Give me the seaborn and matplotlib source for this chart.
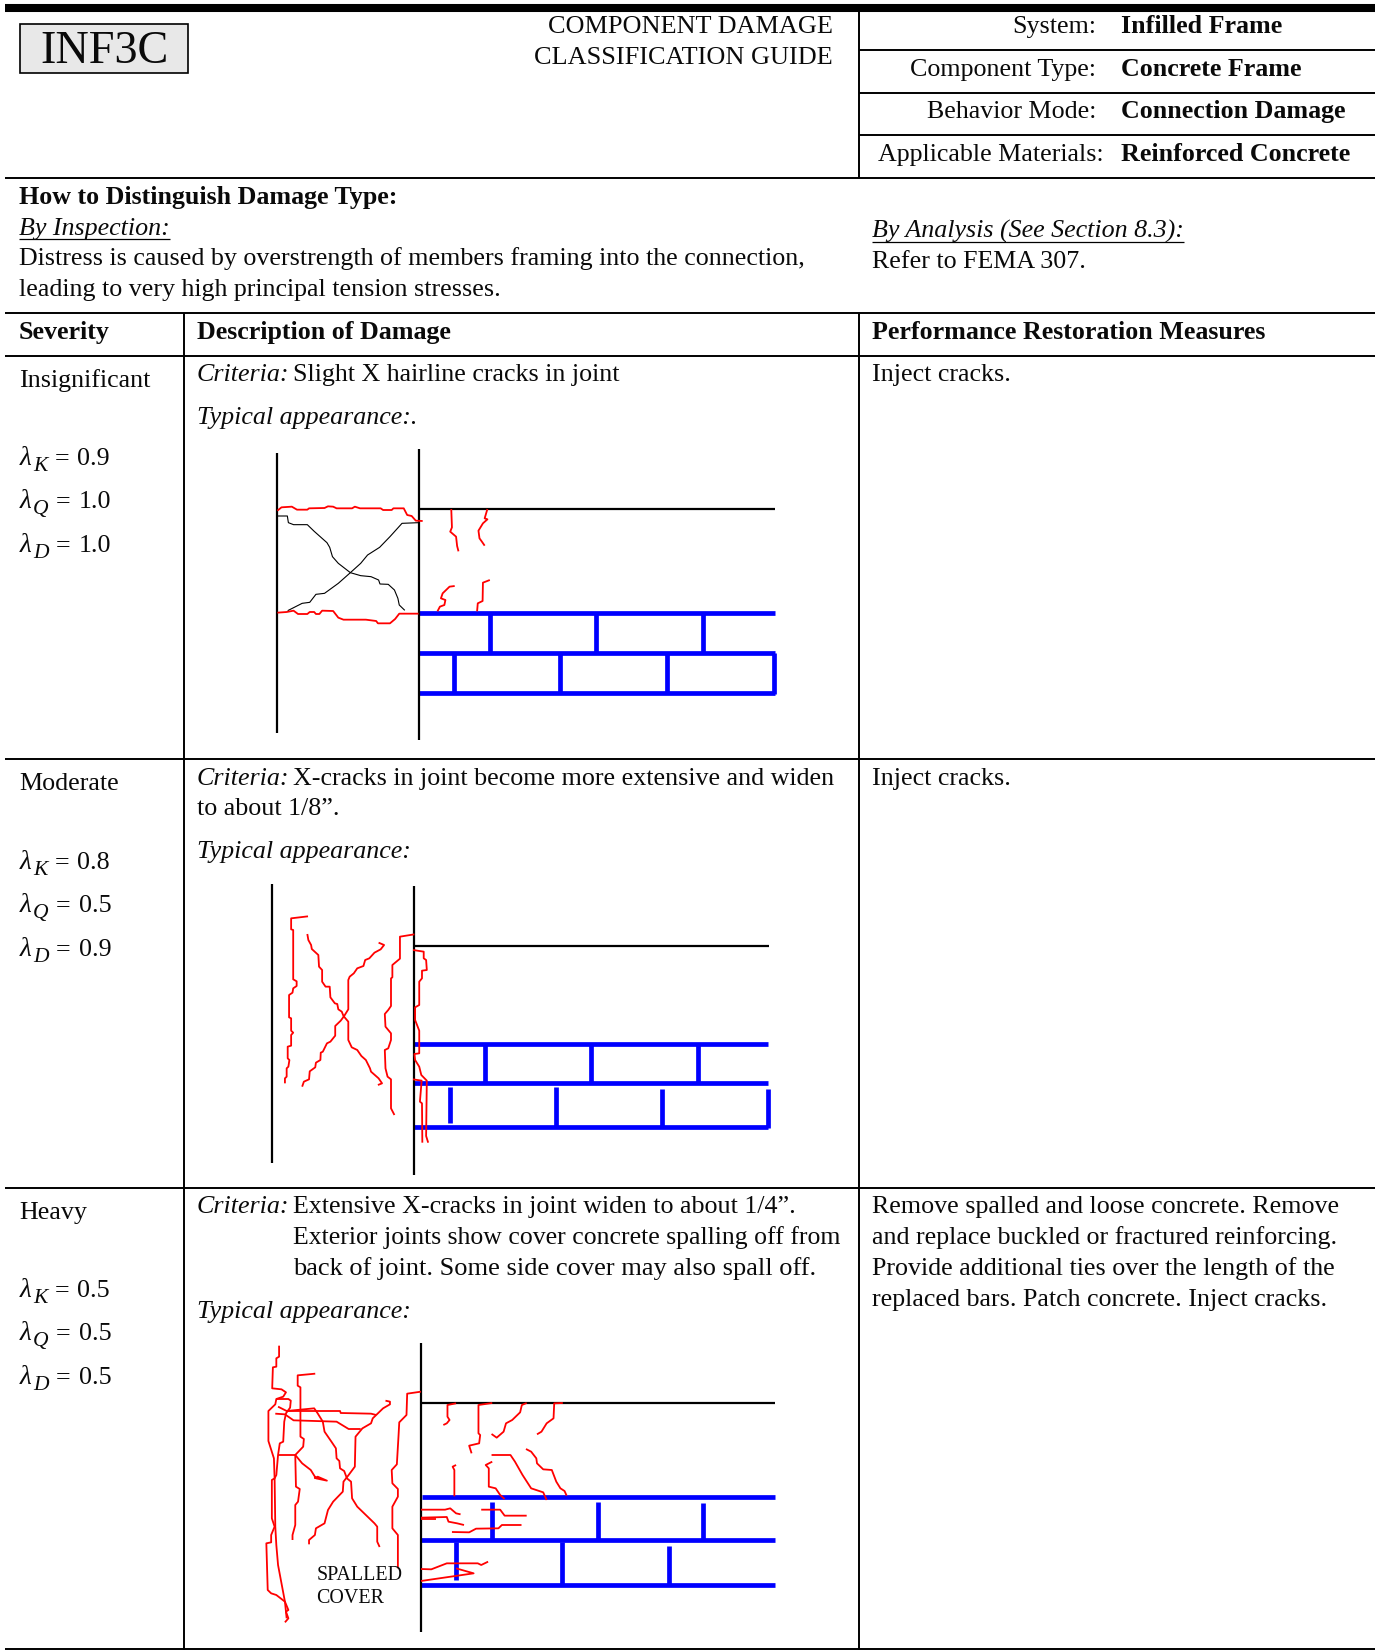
import pandas as pd
import seaborn as sns
import matplotlib.pyplot as plt
from matplotlib.patches import Rectangle

# Textos de la ficha
top_labels = ["System:", "Component Type:", "Behavior Mode:", "Applicable Materials:"]
top_values = ["Infilled Frame", "Concrete Frame", "Connection Damage", "Reinforced Concrete"]
severity = ["Insignificant", "Moderate", "Heavy"]
lambda_k = ["0.9", "0.8", "0.5"]
lambda_q = ["1.0", "0.5", "0.5"]
lambda_d = ["1.0", "0.9", "0.5"]
measures_heavy = ["Remove spalled and loose concrete. Remove",
                  "and replace buckled or fractured reinforcing.",
                  "Provide additional ties over the length of the",
                  "replaced bars. Patch concrete. Inject cracks."]

# Trazos (x, y del recorte ampliado de cada dibujo)
p1_black = [[(76, 40), (76, 880)], [(488, 28), (488, 900)], [(488, 207), (1522, 207)]]
p1_blue = [[(488, 520), (1522, 520)], [(488, 638), (1522, 638)], [(488, 758), (1522, 758)],
           [(695, 520), (695, 638)], [(1003, 520), (1003, 638)], [(1313, 520), (1313, 638)],
           [(591, 638), (591, 758)], [(900, 638), (900, 758)], [(1210, 638), (1210, 758)],
           [(1519, 638), (1519, 762)]]
p1_thin = [[(76, 228), (107, 228), (110, 248), (125, 254), (165, 254), (185, 274), (222, 308), (230, 322),
            (238, 350), (255, 370), (290, 398), (320, 407), (350, 410), (372, 420), (376, 432), (400, 433),
            (418, 450), (428, 475), (432, 495), (448, 511)],
           [(108, 512), (150, 490), (172, 487), (190, 463), (215, 460), (255, 430), (290, 398), (320, 370),
            (340, 345), (375, 322), (405, 290), (440, 250), (488, 248)]]
p1_red = [[(78, 212), (90, 202), (120, 200), (135, 209), (165, 209), (170, 205), (215, 204), (225, 199),
           (240, 200), (250, 205), (295, 205), (303, 200), (318, 205), (378, 205), (385, 210), (410, 210),
           (415, 205), (445, 205), (455, 225), (468, 228), (480, 242), (500, 243)],
          [(78, 518), (105, 516), (125, 512), (138, 522), (165, 522), (172, 516), (185, 516), (190, 522),
           (200, 522), (208, 512), (240, 513), (255, 533), (270, 539), (335, 539), (365, 543), (370, 550),
           (405, 550), (420, 537), (432, 521), (488, 521)],
          [(583, 207), (585, 262), (580, 275), (597, 290), (600, 318), (604, 334)],
          [(688, 207), (680, 235), (688, 238), (675, 250), (662, 272), (665, 295), (672, 305), (680, 317)],
          [(593, 438), (578, 440), (558, 460), (553, 475), (566, 480), (563, 495), (550, 500), (543, 514)],
          [(695, 420), (675, 428), (674, 483), (660, 490), (658, 514)]]

p2_black = [[(63, 42), (63, 880)], [(474, 48), (474, 915)], [(474, 227), (1507, 227)]]
p2_blue = [[(476, 523), (1504, 523)], [(476, 639), (1504, 639)], [(472, 771), (1504, 771)],
           [(681, 523), (681, 639)], [(989, 523), (989, 639)], [(1299, 523), (1299, 639)],
           [(578, 650), (578, 760)], [(886, 650), (886, 771)], [(1196, 656), (1196, 771)],
           [(1504, 656), (1504, 775)]]
p2_red = [[(167, 139), (118, 145), (118, 178), (124, 180), (124, 328), (134, 334), (134, 348), (124, 355),
           (122, 368), (112, 375), (112, 442), (118, 445), (118, 482), (124, 488), (118, 495), (118, 527),
           (108, 530), (108, 565), (113, 570), (110, 590), (105, 595), (105, 620), (100, 625), (100, 640)],
          [(165, 192), (168, 210), (176, 225), (178, 237), (197, 255), (199, 290), (208, 300), (208, 335),
           (218, 350), (230, 350), (232, 382), (245, 400), (252, 402), (255, 418), (265, 425), (270, 438),
           (284, 455), (284, 510), (294, 532), (310, 540), (322, 558), (335, 570), (347, 595), (350, 605),
           (372, 625), (382, 640), (370, 645)],
          [(372, 218), (388, 225), (378, 238), (360, 248), (345, 265), (333, 270), (328, 288), (310, 295),
           (300, 310), (288, 320), (284, 330), (284, 418), (272, 438), (262, 452), (246, 468), (246, 497),
           (232, 515), (222, 520), (210, 545), (204, 548), (203, 570), (190, 578), (188, 592), (172, 604),
           (170, 628), (155, 635), (150, 650)],
          [(476, 193), (434, 200), (434, 266), (412, 285), (412, 322), (408, 325), (408, 408), (400, 420),
           (390, 432), (392, 470), (408, 490), (408, 510), (400, 535), (390, 540), (392, 595), (398, 620),
           (408, 628), (408, 715), (418, 735)],
          [(472, 240), (503, 245), (503, 265), (510, 270), (512, 300), (498, 302), (498, 325), (490, 335),
           (490, 405), (478, 412), (478, 450), (490, 482), (490, 550), (476, 552), (478, 570), (490, 590),
           (496, 615), (512, 632), (510, 798), (516, 818)],
          [(472, 628), (497, 632), (492, 695), (498, 700), (499, 818)]]

p3_black = [[(495, 25), (495, 892)], [(495, 203), (1522, 203)]]
p3_blue = [[(497, 487), (1522, 487)], [(495, 614), (1522, 614)], [(495, 750), (1522, 750)],
           [(700, 500), (700, 614)], [(1009, 500), (1009, 614)], [(1315, 503), (1315, 614)],
           [(597, 622), (597, 735)], [(906, 622), (906, 750)], [(1215, 632), (1215, 750)]]
p3_red = [[(83, 32), (83, 65), (75, 70), (75, 95), (65, 97), (63, 160), (90, 163), (103, 172), (95, 185),
           (75, 192), (72, 208), (52, 228), (52, 318), (68, 370), (70, 430), (62, 435), (62, 550), (70, 575),
           (60, 600), (60, 622), (46, 625), (50, 765), (60, 775), (75, 780), (100, 800), (110, 825),
           (103, 830), (110, 850), (100, 862)],
          [(70, 430), (72, 575), (75, 630), (80, 690), (100, 800), (105, 850)],
          [(75, 192), (110, 192), (117, 197), (115, 218), (103, 235), (98, 260), (95, 320), (85, 325),
           (80, 360), (75, 420), (70, 430)],
          [(188, 116), (137, 121), (137, 152), (145, 157), (145, 305), (155, 312), (153, 335), (130, 360),
           (132, 455), (143, 462), (138, 500), (130, 510), (130, 570), (122, 600), (122, 615)],
          [(80, 215), (105, 228), (135, 225), (185, 220), (195, 235), (210, 260), (215, 290), (235, 320),
           (248, 340), (250, 370), (258, 378), (260, 400), (272, 408), (280, 430), (292, 440), (295, 490),
           (310, 515), (360, 565), (368, 575), (368, 620), (375, 636)],
          [(72, 236), (100, 238), (125, 256), (250, 260), (285, 282), (320, 282)],
          [(105, 228), (260, 228), (262, 234), (350, 236), (365, 240)],
          [(392, 197), (405, 200), (405, 208), (385, 220), (370, 235), (355, 250), (350, 265), (325, 280),
           (305, 305), (303, 395), (285, 420), (270, 440), (268, 470), (240, 500), (225, 525), (215, 565),
           (190, 580), (187, 600), (170, 615), (170, 628)],
          [(80, 360), (130, 360), (150, 385), (175, 405), (190, 430), (222, 437), (195, 425), (185, 430)],
          [(495, 170), (455, 176), (453, 240), (432, 262), (430, 300), (425, 388), (410, 405), (412, 445),
           (428, 462), (428, 485), (412, 515), (412, 580), (428, 600), (428, 700)],
          [(597, 205), (572, 210), (572, 245), (578, 255), (570, 265), (560, 270)],
          [(702, 204), (662, 210), (662, 295), (667, 300), (664, 325), (635, 332), (642, 355)],
          [(802, 204), (788, 210), (783, 232), (760, 255), (742, 265), (735, 290), (715, 308), (700, 297)],
          [(907, 204), (882, 205), (880, 250), (860, 265), (845, 290), (832, 298)],
          [(597, 390), (587, 395), (592, 405), (592, 484)],
          [(702, 380), (683, 390), (692, 400), (692, 455), (712, 460), (725, 480), (738, 492)],
          [(700, 360), (755, 360), (768, 380), (790, 420), (815, 460), (850, 472), (860, 495)],
          [(800, 342), (815, 350), (830, 370), (832, 385), (850, 403), (875, 405), (888, 440), (900, 460),
           (912, 468), (918, 482)],
          [(495, 524), (565, 524), (580, 520), (597, 535), (610, 538)],
          [(495, 548), (570, 546), (575, 560), (600, 565), (620, 570)],
          [(495, 552), (540, 552)],
          [(670, 524), (725, 524), (738, 542), (802, 542)],
          [(585, 591), (635, 592), (655, 581), (720, 580), (730, 570), (787, 570)],
          [(495, 702), (525, 703), (570, 685), (660, 685), (670, 690), (690, 680)],
          [(597, 700), (648, 715), (495, 738)]]

sns.set_theme(style="white")
plt.rcParams['font.family'] = ['Liberation Serif', 'DejaVu Serif']
plt.rcParams['lines.solid_capstyle'] = 'butt'
plt.rcParams['lines.solid_joinstyle'] = 'round'

fig, ax = plt.subplots(figsize=(13.78, 16.5), dpi=100)
fig.subplots_adjust(0, 0, 1, 1)
FS = 18.72


def draw(path, color='black', lw=1.4, origin=(0, 0), scale=(1, 1)):
    df = pd.DataFrame(path, columns=['x', 'y'])
    df['x'] = origin[0] + df['x'] / scale[0]
    df['y'] = origin[1] + df['y'] / scale[1]
    sns.lineplot(data=df, x='x', y='y', sort=False, estimator=None, color=color, linewidth=lw, ax=ax, legend=False)


def panel(origin, black, blue, red, thin=()):
    scale = (2.904, 3)
    for p in blue:
        draw(p, '#0000ff', 3.4, origin, scale)
    for p in black:
        draw(p, 'black', 1.6, origin, scale)
    for p in thin:
        draw(p, 'black', 0.8, origin, scale)
    for p in red:
        draw(p, '#ff0000', 1.3, origin, scale)


def txt(x, y, s, **kw):
    kw.setdefault('fontsize', FS)
    kw.setdefault('va', 'baseline')
    kw.setdefault('color', '#0a0a0a')
    ax.text(x, y, s, **kw)


# Reglas de la tabla
draw([(5, 8), (1375, 8)], lw=5.8)
for y in [178, 313, 356, 758.5, 1188, 1649]:
    draw([(5, y), (1375, y)], lw=1.4)
for y in [49.5, 92.5, 134.5]:
    draw([(858.5, y), (1375, y)], lw=1.4)
draw([(858.5, 4), (858.5, 178)], lw=1.4)
draw([(858.5, 313), (858.5, 1650)], lw=1.4)
draw([(183.5, 313), (183.5, 1650)], lw=1.4)

# Cabecera
ax.add_patch(Rectangle((19.5, 23.5), 168, 49, facecolor='#e8e8e8', edgecolor='black', linewidth=1.2, zorder=3))
txt(40, 63, "INF3C", fontsize=33.3, zorder=4)
txt(833, 33, "COMPONENT DAMAGE", ha='right', fontsize=18.9)
txt(833, 64, "CLASSIFICATION GUIDE", ha='right', fontsize=18.9)
for i, y in enumerate([33, 76, 118, 161]):
    txt(1096 if i < 3 else 1104, y, top_labels[i], ha='right')
    txt(1121, y, top_values[i], fontweight='bold')

txt(19, 204, "How to Distinguish Damage Type:", fontweight='bold')
txt(19, 235, "By Inspection:", style='italic')
draw([(19, 239), (170, 239)], lw=0.9)
txt(19, 265, "Distress is caused by overstrength of members framing into the connection,")
txt(19, 296, "leading to very high principal tension stresses.")
txt(872, 238, "By Analysis (See Section 8.3):", style='italic')
draw([(872, 242), (1184, 242)], lw=0.9)
txt(872, 268, "Refer to FEMA 307.")

txt(19, 339, "Severity", fontweight='bold')
txt(197, 339, "Description of Damage", fontweight='bold')
txt(872, 339, "Performance Restoration Measures", fontweight='bold')

# Columna de severidad: lambda, subindice, signo igual y valor por separado
sev_y = [387, 790, 1219]
lam_y = [(465, 508, 552), (869, 912, 956), (1297, 1340, 1384)]
for i, name in enumerate(severity):
    txt(19, sev_y[i], name)
    for sub, val, y in zip("KQD", [lambda_k[i], lambda_q[i], lambda_d[i]], lam_y[i]):
        wide = 0 if sub == "K" else 2
        txt(20, y, "λ", style='italic', fontsize=19.5)
        txt(33, y + 6, sub, style='italic', fontsize=15.5)
        txt(54.5 + wide * 0.7, y, "=")
        txt(77 + wide, y, val)

# Descripcion
txt(197, 381, "Criteria:", style='italic')
txt(293, 381, "Slight X hairline cracks in joint")
txt(197, 424, "Typical appearance:.", style='italic')
txt(197, 785, "Criteria:", style='italic')
txt(293, 785, "X-cracks in joint become more extensive and widen")
txt(197, 815, "to about 1/8”.")
txt(197, 858, "Typical appearance:", style='italic')
txt(197, 1213, "Criteria:", style='italic')
txt(293, 1213, "Extensive X-cracks in joint widen to about 1/4”.")
txt(293, 1244, "Exterior joints show cover concrete spalling off from", fontsize=18.5)
txt(293, 1275, "back of joint. Some side cover may also spall off.", fontsize=19)
txt(197, 1318, "Typical appearance:", style='italic')

# Medidas
txt(872, 381, "Inject cracks.")
txt(872, 785, "Inject cracks.")
for s, y in zip(measures_heavy, [1213, 1244, 1275, 1306]):
    txt(872, y, s)

# Dibujos
panel((250.5, 440), p1_black, p1_blue, p1_red, p1_thin)
panel((250.5, 870), p2_black, p2_blue, p2_red)
panel((250.5, 1335), p3_black, p3_blue, p3_red)
txt(316.5, 1580, "SPALLED", fontsize=14.4)
txt(316.5, 1603, "COVER", fontsize=14.4)

ax.set_xlim(0, 1378)
ax.set_ylim(1650, 0)
ax.axis('off')
fig.savefig('out.png', dpi=100)
